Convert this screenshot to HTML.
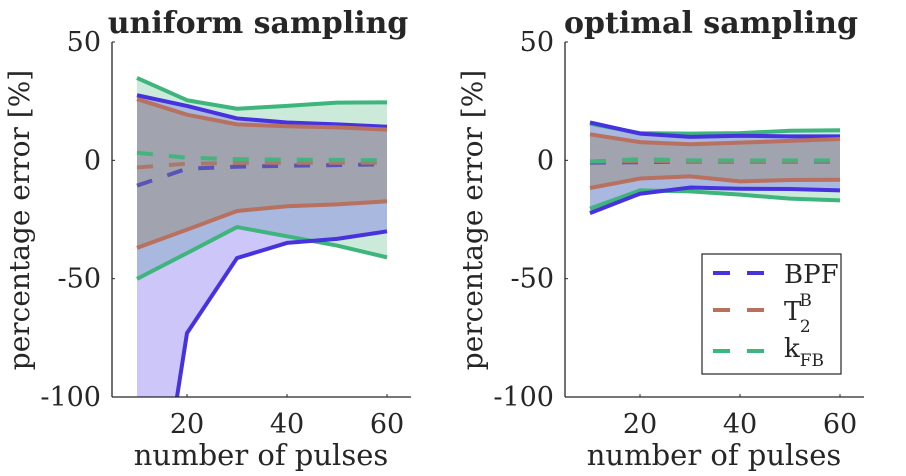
<!DOCTYPE html>
<html><head><meta charset="utf-8"><style>
body{margin:0;background:#fff;overflow:hidden;width:906px;height:476px}
svg{display:block}
svg text{font-family:"DejaVu Serif","Liberation Serif",serif;fill:#262626}
</style></head><body>
<svg id="chart" width="906" height="476" viewBox="0 0 906 476" xmlns="http://www.w3.org/2000/svg"></svg>
<script>
const xVals=[10,20,30,40,50,60];
const yTicks=[50,0,-50,-100];
const xTicks=[20,40,60];
// uniform sampling
const uBpfUp=[27.5,23,17.7,16,15.2,14.2];
const uBpfMid=[-10.7,-3.5,-2.7,-2.3,-2,-1.7];
const uBpfLo=[-208,-73,-41.3,-34.9,-33.2,-30];
const uT2Up=[25.9,19.3,15.2,14.4,13.9,13];
const uT2Mid=[-3,-1.4,-1.1,-1,-1,-1];
const uT2Lo=[-37,-29.3,-21.4,-19.4,-18.6,-17.3];
const uKUp=[34.8,25.4,21.8,23,24.4,24.5];
const uKMid=[3.2,1.1,0.5,0.3,0.2,0];
const uKLo=[-50.1,-39.2,-28.2,-32.1,-36,-41];
// optimal sampling
const oBpfUp=[16,11.3,9.9,10.4,10.1,10.1];
const oBpfMid=[-1,-0.8,-0.5,-0.5,-0.5,-0.5];
const oBpfLo=[-22.3,-14.1,-11.5,-12,-12.1,-12.7];
const oT2Up=[11,7.7,6.8,7.5,8.2,9];
const oT2Mid=[-0.5,-0.3,-0.3,-0.3,-0.3,-0.2];
const oT2Lo=[-11.7,-7.7,-6.8,-8.9,-8.3,-8.2];
const oKUp=[15.5,11.5,11.3,11.5,12.5,12.7];
const oKMid=[-0.5,0.5,0,0,0,0];
const oKLo=[-20.4,-12.7,-13.1,-14.5,-16.2,-16.9];

const NS="http://www.w3.org/2000/svg";
const svg=document.getElementById('chart');
function mk(tag,attrs,parent){const e=document.createElementNS(NS,tag);for(const k in attrs)e.setAttribute(k,attrs[k]);(parent||svg).appendChild(e);return e;}
const colors={bpf:'#4633dd',t2:'#b8705f',k:'#3db57c'};
const dashColors={bpf:'#5a55b5',t2:'#a87a6e',k:'#45b37e'};
const fills={bpf:'rgba(90,70,235,0.30)',t2:'rgba(150,120,80,0.33)',k:'rgba(70,180,120,0.28)'};

function panel(x0,title,series,key){
  const g=mk('g',{});
  
  
  const xs=v=>x0+(v-5)*5;
  const ys=v=>42+(50-v)*(355/150);
  const cid='clip-'+key;
  const cp=mk('clipPath',{id:cid},g);
  mk('rect',{x:x0,y:42,width:300,height:355},cp);
  const plot=mk('g',{'clip-path':'url(#'+cid+')'},g);
  const order=['k','bpf','t2'];
  order.forEach(s=>{
    const d=series[s];
    let pts=xVals.map((x,i)=>xs(x)+','+ys(d.up[i]));
    pts=pts.concat(xVals.map((x,i)=>xs(x)+','+ys(d.lo[i])).reverse());
    const p=mk('polygon',{points:pts.join(' '),fill:fills[s]},plot);
    
    
  });
  ['bpf','t2','k'].forEach(s=>{
    const d=series[s];
    const m=mk('polyline',{points:xVals.map((x,i)=>xs(x)+','+ys(d.mid[i])).join(' '),fill:'none',stroke:dashColors[s],'stroke-width':4,'stroke-dasharray':'16,16'},plot);
    
    
  });
  order.forEach(s=>{
    const d=series[s];
    ['up','lo'].forEach(b=>{
      const l=mk('polyline',{points:xVals.map((x,i)=>xs(x)+','+ys(d[b][i])).join(' '),fill:'none',stroke:colors[s],'stroke-width':4,'stroke-linejoin':'round'},plot);
      
      
    });
  });
  mk('line',{x1:x0,y1:42,x2:x0,y2:397,stroke:'#262626','stroke-width':1.3},g);
  mk('line',{x1:x0,y1:397,x2:x0+299,y2:397,stroke:'#262626','stroke-width':1.3},g);
  yTicks.forEach(v=>{
    mk('line',{x1:x0,y1:ys(v),x2:x0+3,y2:ys(v),stroke:'#262626'},g);
    const t=mk('text',{x:x0-11,y:ys(v)+9,'text-anchor':'end','font-size':27},g);t.textContent=v;
    
    
  });
  xTicks.forEach(v=>{
    mk('line',{x1:xs(v),y1:397,x2:xs(v),y2:394,stroke:'#262626'},g);
    const t=mk('text',{x:xs(v),y:433,'text-anchor':'middle','font-size':27},g);t.textContent=v;
    
    
  });
  const tt=mk('text',{x:x0+146,y:33,'text-anchor':'middle','font-size':30,'font-weight':'bold',fill:'#000'},g);tt.textContent=title;
  
  
  const xl=mk('text',{x:x0+149,y:465,'text-anchor':'middle','font-size':29},g);xl.textContent='number of pulses';
  
  
  const yl=mk('text',{x:0,y:0,'text-anchor':'middle','font-size':28,transform:'translate('+(x0-83)+',220) rotate(-90)'},g);yl.textContent='percentage error [%]';
  
  
}
panel(112,'uniform sampling',{bpf:{up:uBpfUp,mid:uBpfMid,lo:uBpfLo},t2:{up:uT2Up,mid:uT2Mid,lo:uT2Lo},k:{up:uKUp,mid:uKMid,lo:uKLo}},'uniform');
panel(565,'optimal sampling',{bpf:{up:oBpfUp,mid:oBpfMid,lo:oBpfLo},t2:{up:oT2Up,mid:oT2Mid,lo:oT2Lo},k:{up:oKUp,mid:oKMid,lo:oKLo}},'optimal');

// legend
const lg=mk('g',{});


mk('rect',{x:702,y:254,width:139,height:120,fill:'#fff',stroke:'#262626','stroke-width':1.2},lg);
[['bpf',273],['t2',310],['k',351]].forEach(([s,y])=>{
  const l=mk('line',{x1:713,y1:y,x2:765,y2:y,stroke:colors[s],'stroke-width':4,'stroke-dasharray':'17,17'},lg);
  
  
});
const t1=mk('text',{x:784,y:283,'font-size':26},lg);t1.textContent='BPF';


const t2=mk('text',{x:784,y:320,'font-size':26},lg);t2.innerHTML='T<tspan font-size="17" dx="-2" dy="-14">B</tspan><tspan font-size="17" dx="-12" dy="26">2</tspan>';


const t3=mk('text',{x:784,y:357,'font-size':26},lg);t3.innerHTML='k<tspan font-size="17" dy="9">FB</tspan>';


</script>
</body></html>
